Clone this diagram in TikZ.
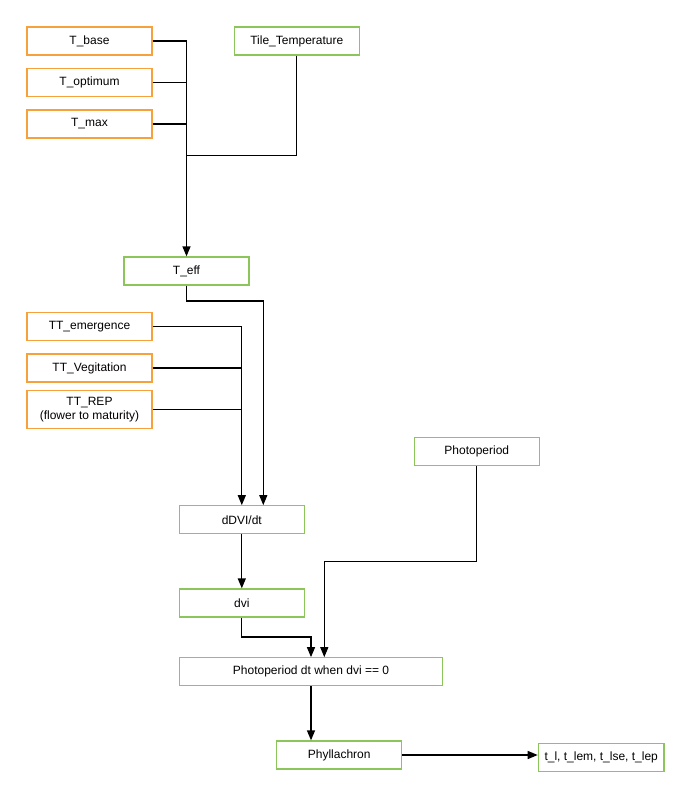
\documentclass[tikz,border=0pt]{standalone}
\usepackage{fontspec}
\setmainfont{Liberation Sans}
\usetikzlibrary{arrows.meta}
\definecolor{paramorange}{HTML}{F7A13C}
\definecolor{calcgreen}{HTML}{8CC65A}
\tikzset{
  box/.style={draw, line width=1.3pt, fill=white, minimum width=125pt,
    minimum height=28pt, inner sep=1pt, align=center,
    font=\fontsize{12}{14}\selectfont},
  param/.style={box, draw=paramorange},
  calc/.style={box, draw=calcgreen},
  link/.style={line width=1.3pt, draw=black},
  flow/.style={link, -{Triangle[length=10pt,width=8pt]}}
}
\begin{document}
\begin{tikzpicture}[x=1pt, y=-1pt]
\useasboundingbox (0,0) rectangle (691,800);

% temperature inputs
\node[param] (tbase) at (89.5,41) {T\_base};
\node[param] (topt)  at (89.5,82.8) {T\_optimum};
\node[param] (tmax)  at (89.5,124) {T\_max};
\node[calc]  (tile)  at (296.8,41) {Tile\_Temperature};
\node[calc]  (teff)  at (186.5,271) {T\_eff};

% thermal time parameters
\node[param] (ttem)  at (89.5,326.5) {TT\_emergence};
\node[param] (ttveg) at (89.5,368) {TT\_Vegitation};
\node[param, minimum height=37.6pt] (ttrep) at (89.5,409.5) {TT\_REP\\(flower to maturity)};

% development chain
\node[calc] (ddvi)  at (241.8,519.8) {dDVI/dt};
\node[calc] (dvi)   at (241.8,603) {dvi};
\node[calc] (photo) at (476.8,451.2) {Photoperiod};
\node[calc, minimum width=263.4pt] (pdt) at (311,671.8) {Photoperiod dt when dvi == 0};
\node[calc] (phyl)  at (339.2,755) {Phyllachron};
\node[calc, minimum width=125.7pt] (tout) at (601.2,757.5) {t\_l, t\_lem, t\_lse, t\_lep};

% junction points
\coordinate (j1) at (186.5,155.7);
\coordinate (k1) at (263.3,301);
\coordinate (j2) at (241.8,440);
\coordinate (k2) at (311,637);
\coordinate (k3) at (324.3,561.7);

% temperatures into T_eff
\draw[link] (tbase.east) -| (j1);
\draw[link] (topt.east) -| (j1);
\draw[link] (tmax.east) -| (j1);
\draw[link] (tile.south) |- (j1);
\draw[flow] (j1) -- (teff.north);

% T_eff and thermal times into dDVI/dt
\draw[flow] (teff.south) |- (k1) -- (k1 |- ddvi.north);
\draw[link] (ttem.east) -| (j2);
\draw[link] (ttveg.east) -| (j2);
\draw[link] (ttrep.east) -| (j2);
\draw[flow] (j2) -- (j2 |- ddvi.north);

% development to phyllochron
\draw[flow] (ddvi.south) -- (dvi.north);
\draw[flow] (dvi.south) |- (k2) -- (k2 |- pdt.north);
\draw[flow] (photo.south) |- (k3) -- (k3 |- pdt.north);
\draw[flow] (pdt.south) -- (pdt.south |- phyl.north);
\draw[flow] (phyl.east) -- (phyl.east -| tout.west);
\end{tikzpicture}
\end{document}
